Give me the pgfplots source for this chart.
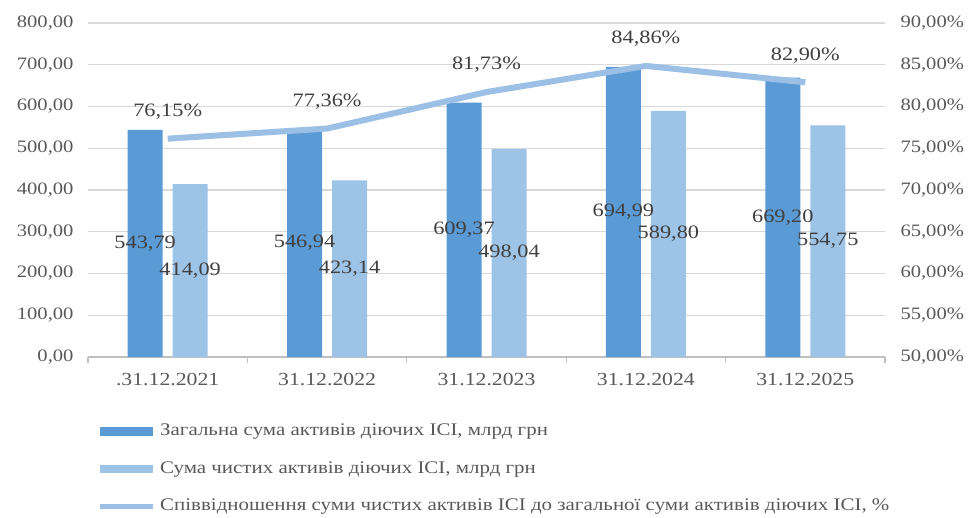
\documentclass[border=0pt]{standalone}
\usepackage{pgfplots}
\pgfplotsset{compat=1.18}
\usepackage{fontspec}
\setmainfont{Liberation Serif}[FakeStretch=1.18]

\definecolor{darkbar}{HTML}{5B9BD5}
\definecolor{lightbar}{HTML}{9DC3E6}
\definecolor{ratioline}{HTML}{9BBFE5}
\definecolor{gridc}{HTML}{D9D9D9}
\definecolor{axisc}{HTML}{BFBFBF}
\definecolor{tickc}{HTML}{595959}
\definecolor{labc}{HTML}{404040}

\pgfplotsset{
  numfmt/.style={
    /pgf/number format/fixed,
    /pgf/number format/fixed zerofill,
    /pgf/number format/precision=2,
    /pgf/number format/use comma,
    /pgf/number format/1000 sep={},
    /pgf/number format/assume math mode=true,
  },
}

\begin{document}
\begin{tikzpicture}
\useasboundingbox (0bp,0bp) rectangle (971bp,518bp);
\begin{axis}[
  at={(88bp,161bp)}, anchor=south west,
  scale only axis, width=797bp, height=334bp,
  numfmt,
  xmin=-0.5, xmax=4.5, ymin=0, ymax=800,
  ybar=10bp, bar width=35bp,
  xtick={0,1,2,3,4},
  xticklabels={.31.12.2021,31.12.2022,31.12.2023,31.12.2024,31.12.2025},
  minor xtick={-0.5,0.5,1.5,2.5,3.5,4.5},
  ytick={0,100,...,800},
  axis x line*=bottom, axis y line*=left,
  y axis line style={draw=none},
  x axis line style={draw=axisc, line width=1.2bp},
  major tick length=0pt, minor tick length=6bp,
  tick align=outside,
  minor tick style={draw=axisc, line width=1.2bp},
  ymajorgrids, grid style={draw=gridc, line width=1.3bp},
  tick label style={font=\fontsize{17.5}{20}\selectfont, text=tickc},
  xticklabel style={font=\fontsize{18.5}{22}\selectfont, yshift=-13bp},
  yticklabel style={xshift=-11bp},
  legend cell align=left,
  legend style={at={(0.0113,-0.19)}, anchor=north west, draw=none, fill=none,
    font=\fontsize{17.8}{21}\selectfont, text=tickc, row sep=16.5bp, column sep=3bp,
    inner sep=0pt,
    nodes={inner sep=2bp, text height=13bp, text depth=4bp}},
  nodes near coords,
  visualization depends on=rawy \as \rawy,
  every node near coord/.append style={anchor=center,
    shift={(axis direction cs:0,-\rawy/2)},
    font=\fontsize{19}{22}\selectfont, text=labc},
]
\addplot[fill=darkbar, draw=none,
  legend image code/.code={\fill[darkbar] (0bp,-4.5bp) rectangle (53bp,4.5bp);}]
  coordinates {(0,543.79) (1,546.94) (2,609.37) (3,694.99) (4,669.20)};
\addlegendentry{Загальна сума активів діючих ІСІ, млрд грн}
\addplot[fill=lightbar, draw=none,
  legend image code/.code={\fill[lightbar] (0bp,-4bp) rectangle (53bp,4bp);}]
  coordinates {(0,414.09) (1,423.14) (2,498.04) (3,589.80) (4,554.75)};
\addlegendentry{Сума чистих активів діючих ІСІ, млрд грн}
\addlegendimage{legend image code/.code={\draw[ratioline, line width=5bp] (0bp,0bp) -- (53bp,0bp);}}
\addlegendentry{Співвідношення суми чистих активів ІСІ до загальної суми активів діючих ІСІ, \%}
\end{axis}
\begin{axis}[
  at={(88bp,161bp)}, anchor=south west,
  scale only axis, width=797bp, height=334bp,
  numfmt,
  xmin=-0.5, xmax=4.5, ymin=50, ymax=90,
  ytick={50,55,...,90},
  axis x line=none, axis y line*=right,
  y axis line style={draw=none},
  major tick length=0pt,
  tick label style={font=\fontsize{17.5}{20}\selectfont, text=tickc},
  yticklabel={\pgfmathprintnumber{\tick}\%},
  yticklabel style={xshift=12bp},
]
\addplot[color=ratioline, line width=6bp, mark=none,
  nodes near coords={\pgfmathprintnumber{\pgfplotspointmeta}\%},
  every node near coord/.append style={anchor=center, yshift=27bp,
    font=\fontsize{19}{22}\selectfont, text=labc}]
  coordinates {(0,76.15) (1,77.36) (2,81.73) (3,84.86) (4,82.90)};
\end{axis}
\end{tikzpicture}
\end{document}
